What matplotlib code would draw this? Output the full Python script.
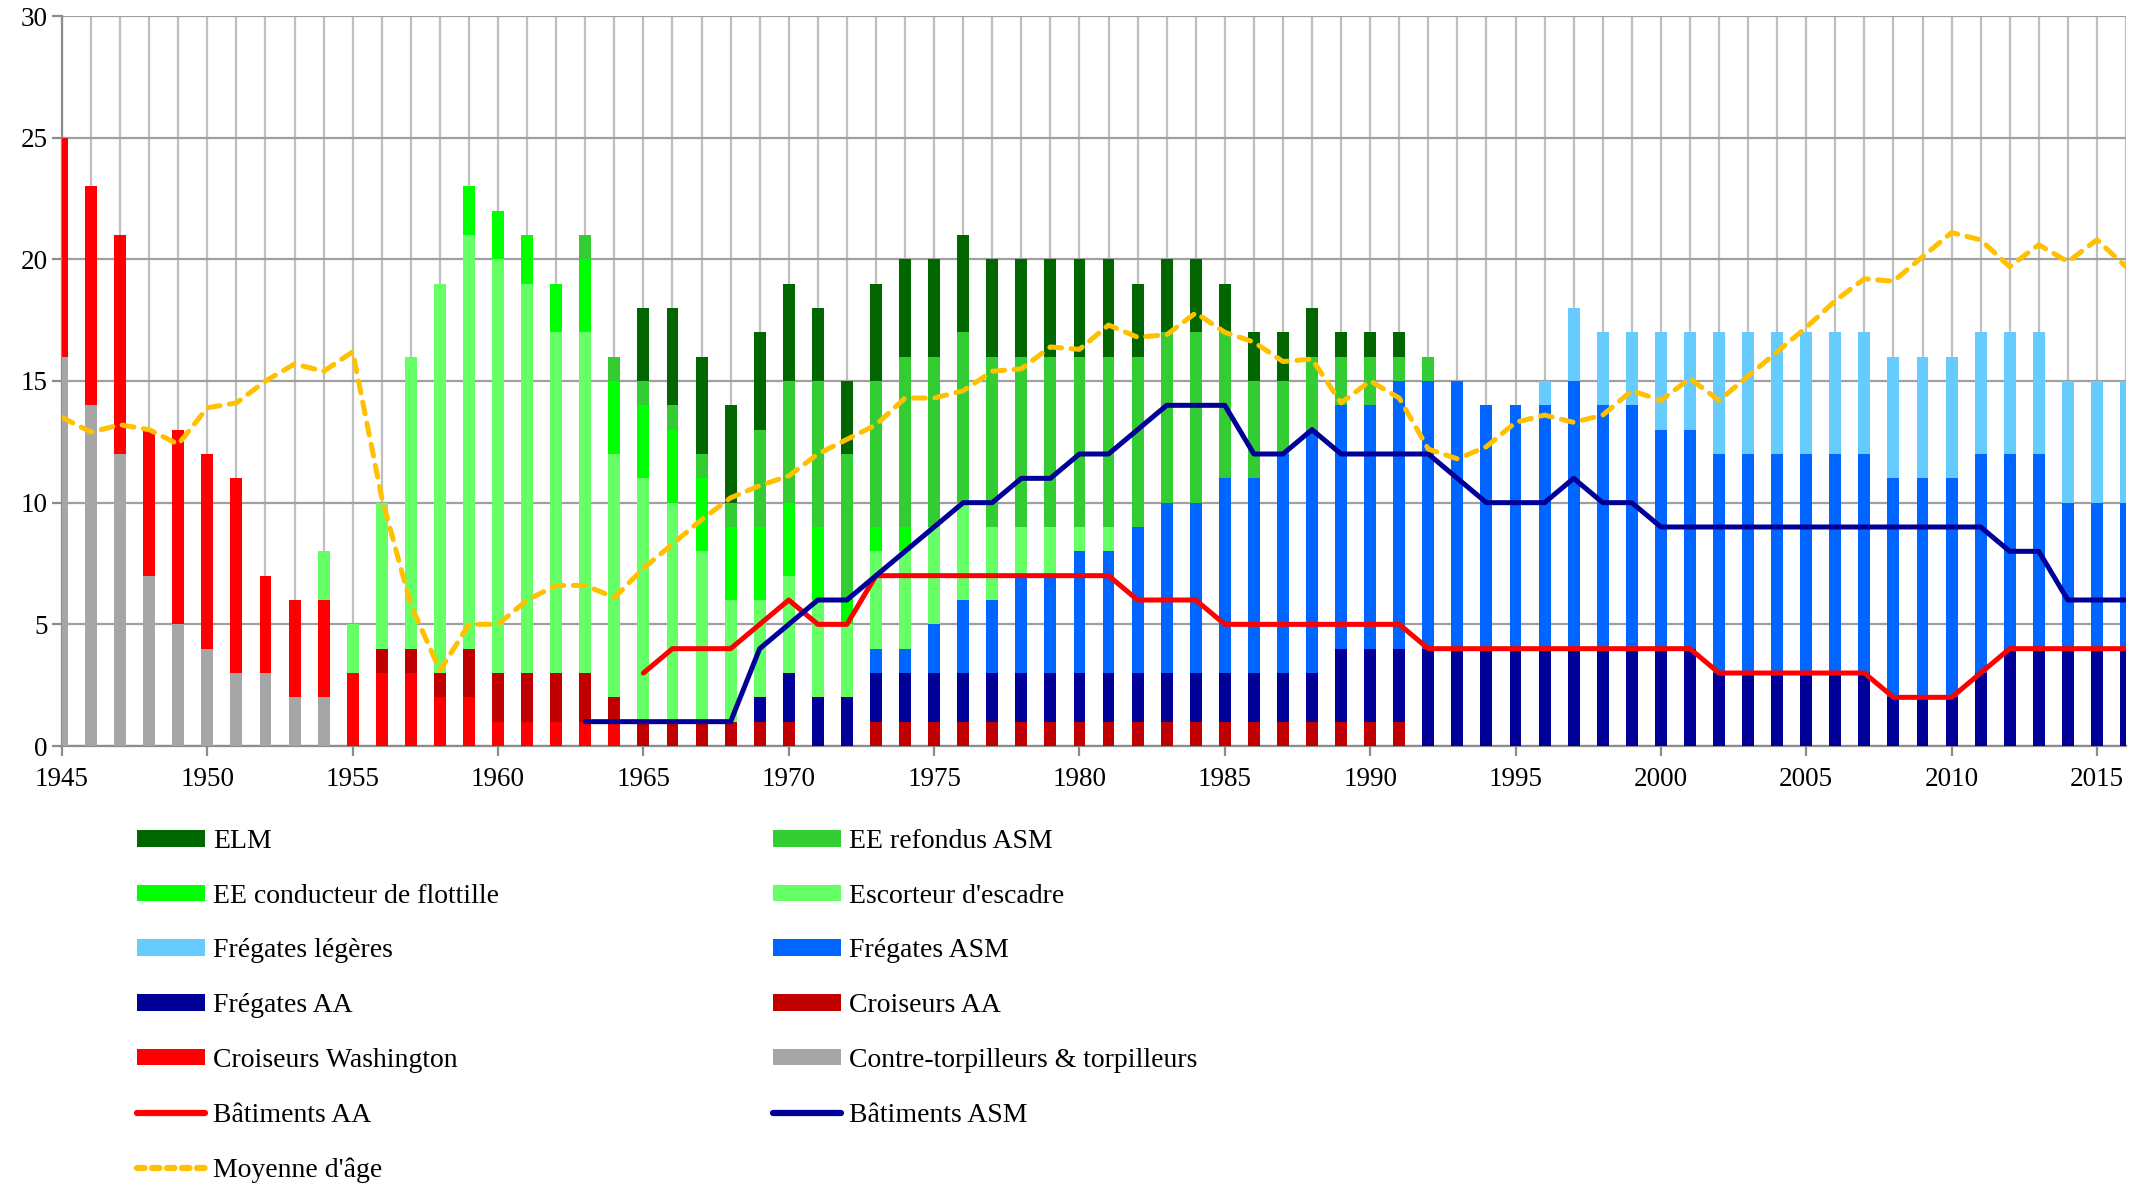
import numpy as np
import matplotlib
matplotlib.use("Agg")
import matplotlib.pyplot as plt
from matplotlib.patches import Patch
from matplotlib.lines import Line2D

plt.rcParams['font.family'] = ['Liberation Serif', 'DejaVu Serif']

years = list(range(1945, 2017))

# ship counts per year, 1945 -> 2016 (one line = one decade-ish block)
contre_torp = [16, 14, 12, 7, 5, 4, 3, 3, 2, 2] + [0] * 62

crois_wash = ([9, 9, 9, 6, 8, 8, 8, 4, 4, 4]
              + [3, 3, 3, 2, 2, 1, 1, 1, 1, 1]
              + [0] * 52)

crois_aa = ([0] * 10
            + [0, 1, 1, 1, 2, 2, 2, 2, 2, 1]
            + [1, 1, 1, 1, 1, 1, 0, 0, 1, 1]
            + [1] * 10
            + [1, 1, 1, 1, 1, 1, 1, 0, 0, 0]
            + [0] * 22)

freg_aa = ([0] * 20
           + [0, 0, 0, 0, 1, 2, 2, 2, 2, 2]
           + [2] * 10
           + [2, 2, 2, 2, 3, 3, 3, 4, 4, 4]
           + [4, 4, 4, 4, 4, 4, 4, 3, 3, 3]
           + [3, 3, 3, 2, 2, 2, 3, 4, 4, 4]
           + [4, 4])

freg_asm = ([0] * 20
            + [0, 0, 0, 0, 0, 0, 0, 0, 1, 1]
            + [2, 3, 3, 4, 4, 5, 5, 6, 7, 7]
            + [8, 8, 9, 10, 10, 10, 11, 11, 11, 10]
            + [10, 10, 11, 10, 10, 9, 9, 9, 9, 9]
            + [9, 9, 9, 9, 9, 9, 9, 8, 8, 6]
            + [6, 6])

freg_leg = ([0] * 50
            + [0, 1, 3, 3, 3, 4, 4, 5, 5, 5]
            + [5] * 10
            + [5, 5])

escorteur = ([0, 0, 0, 0, 0, 0, 0, 0, 0, 2]
             + [2, 6, 12, 16, 17, 17, 16, 14, 14, 10]
             + [10, 9, 7, 5, 4, 4, 4, 3, 4, 4]
             + [4, 4, 3, 2, 2, 1, 1, 0, 0, 0]
             + [0] * 32)

ee_cond = ([0] * 10
           + [0, 0, 0, 0, 2, 2, 2, 2, 3, 3]
           + [3, 3, 3, 3, 3, 3, 3, 1, 1, 1]
           + [0] * 42)

ee_ref = ([0] * 10
          + [0, 0, 0, 0, 0, 0, 0, 0, 1, 1]
          + [1, 1, 1, 1, 4, 5, 6, 6, 6, 7]
          + [7] * 10
          + [6, 4, 3, 3, 2, 2, 1, 1, 0, 0]
          + [0] * 22)

elm = ([0] * 20
       + [3, 4, 4, 4, 4, 4, 3, 3, 4, 4]
       + [4, 4, 4, 4, 4, 4, 4, 3, 3, 3]
       + [2, 2, 2, 2, 1, 1, 1, 0, 0, 0]
       + [0] * 22)

# lines
aa_years = list(range(1965, 2017))
bat_aa = ([3, 4, 4, 4, 5, 6, 5, 5] + [7] * 9 + [6] * 3 + [5] * 7
          + [4] * 10 + [3] * 6 + [2] * 3 + [3] + [4] * 5)

asm_years = list(range(1963, 2017))
bat_asm = ([1, 1, 1, 1, 1, 1, 4, 5, 6, 6, 7, 8, 9, 10, 10, 11, 11, 12, 12, 13,
            14, 14, 14, 12, 12, 13, 12, 12, 12, 12, 11, 10, 10, 10, 11, 10, 10]
           + [9] * 12 + [8, 8, 6, 6, 6])

age_moy = ([13.5, 12.9, 13.2, 13.0, 12.4, 13.9, 14.1, 15.0, 15.7, 15.4,
            16.2, 10.2, 5.8, 3.1, 5.0, 5.0, 6.0, 6.6, 6.6, 6.1,
            7.3, 8.3, 9.3, 10.2, 10.7, 11.1, 12.0, 12.6, 13.2, 14.3,
            14.3, 14.6, 15.4, 15.5, 16.4, 16.3, 17.3, 16.8, 16.9, 17.8,
            17.0, 16.6, 15.8, 15.9, 14.1, 15.0, 14.3, 12.2, 11.8, 12.3,
            13.3, 13.6, 13.3, 13.6, 14.6, 14.2, 15.1, 14.2, 15.2, 16.2,
            17.2, 18.3, 19.2, 19.1, 20.1, 21.1, 20.8, 19.7, 20.6, 19.9,
            20.8, 19.7])

# stacking order bottom -> top
stack = [
    ("Contre-torpilleurs & torpilleurs", contre_torp, "#A6A6A6"),
    ("Croiseurs Washington", crois_wash, "#FF0000"),
    ("Croiseurs AA", crois_aa, "#C00000"),
    ("Frégates AA", freg_aa, "#000099"),
    ("Frégates ASM", freg_asm, "#0066FF"),
    ("Frégates légères", freg_leg, "#66CCFF"),
    ("Escorteur d'escadre", escorteur, "#66FF66"),
    ("EE conducteur de flottille", ee_cond, "#00FF00"),
    ("EE refondus ASM", ee_ref, "#33CC33"),
    ("ELM", elm, "#006600"),
]

fig = plt.figure(figsize=(21.47, 11.88), dpi=100)
ax = fig.add_axes([62 / 2147, 1 - 746 / 1188, (2126 - 62) / 2147, (746 - 16) / 1188])

bottom = np.zeros(len(years))
handles = {}
for name, vals, col in stack:
    vals = np.array(vals, dtype=float)
    ax.bar(years, vals, bottom=bottom, width=0.41, color=col, zorder=3, linewidth=0)
    bottom += vals
    handles[name] = Patch(facecolor=col, edgecolor='none')

ax.plot(aa_years, bat_aa, color="#FF0000", lw=3.6, zorder=4, solid_capstyle='round')
ax.plot(asm_years, bat_asm, color="#000099", lw=3.6, zorder=4, solid_capstyle='round')
ax.plot(years, age_moy, color="#FFC000", lw=3.6, zorder=5, dashes=(2.4, 1.9),
        dash_capstyle='round')

handles["Bâtiments AA"] = Line2D([], [], color="#FF0000", lw=4.5, solid_capstyle='round')
handles["Bâtiments ASM"] = Line2D([], [], color="#000099", lw=4.5, solid_capstyle='round')
handles["Moyenne d'âge"] = Line2D([], [], color="#FFC000", lw=4.5, dashes=(1.2, 1.2),
                                  dash_capstyle='round')

ax.set_xlim(1945, 2016)
ax.set_ylim(0, 30)
ax.set_xticks(range(1945, 2016, 5))
ax.set_xticks(years, minor=True)
ax.set_yticks(range(0, 31, 5))
ax.grid(axis='x', which='minor', color='#BFBFBF', lw=1.6, zorder=0)
ax.grid(axis='x', which='major', color='#BFBFBF', lw=1.6, zorder=0)
ax.grid(axis='y', which='major', color='#A0A0A0', lw=1.6, zorder=0)
ax.tick_params(axis='x', which='minor', length=0)
ax.tick_params(axis='both', which='major', labelsize=19.5, color='#8C8C8C',
               length=7, width=1.6, direction='out')
ax.tick_params(axis='x', pad=8)
for s in ['top', 'right']:
    ax.spines[s].set_visible(False)
for s in ['left', 'bottom']:
    ax.spines[s].set_color('#8C8C8C')
    ax.spines[s].set_linewidth(1.6)

col1 = ["ELM", "EE conducteur de flottille", "Frégates légères", "Frégates AA",
        "Croiseurs Washington", "Bâtiments AA", "Moyenne d'âge"]
col2 = ["EE refondus ASM", "Escorteur d'escadre", "Frégates ASM", "Croiseurs AA",
        "Contre-torpilleurs & torpilleurs", "Bâtiments ASM"]

leg_kw = dict(loc='upper left', frameon=False, fontsize=20, borderpad=0,
              borderaxespad=0, handlelength=2.45, handleheight=0.55,
              handletextpad=0.3, labelspacing=1.07)
leg1 = fig.legend([handles[n] for n in col1], col1,
                  bbox_to_anchor=(137 / 2147, 1 - 829 / 1188), **leg_kw)
leg2 = fig.legend([handles[n] for n in col2], col2,
                  bbox_to_anchor=(773 / 2147, 1 - 829 / 1188), **leg_kw)

fig.savefig("out.png", dpi=100)
